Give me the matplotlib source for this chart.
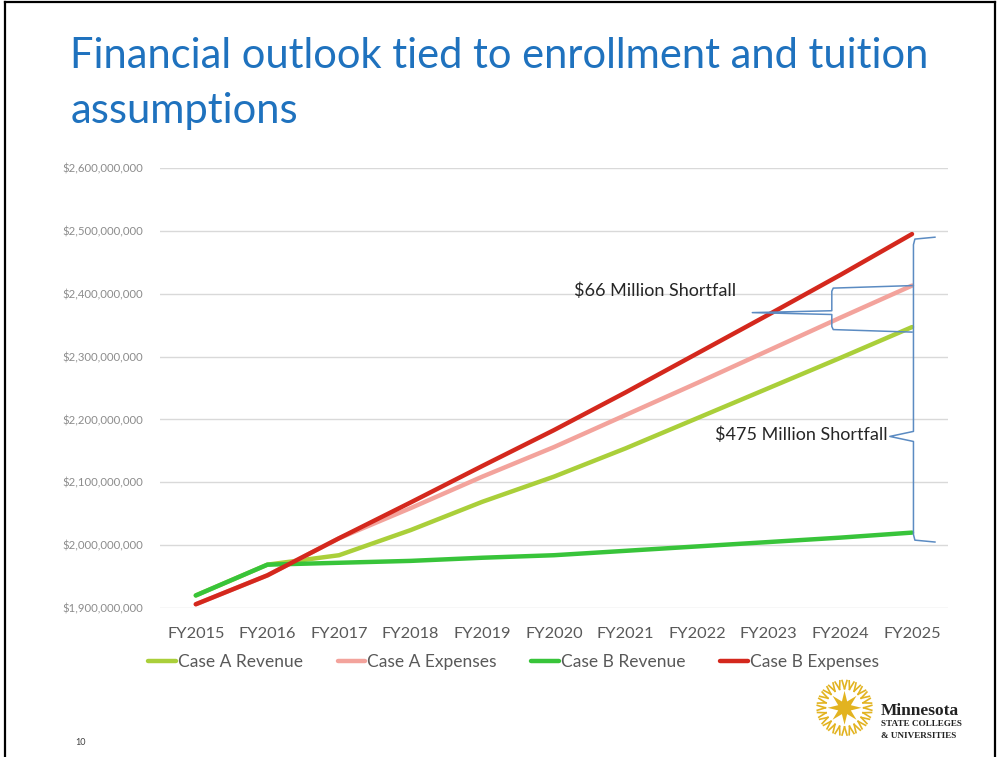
import numpy as np
import matplotlib.pyplot as plt
from matplotlib.lines import Line2D
from matplotlib.ticker import FuncFormatter

years = ['FY2015', 'FY2016', 'FY2017', 'FY2018', 'FY2019', 'FY2020',
         'FY2021', 'FY2022', 'FY2023', 'FY2024', 'FY2025']

# millions of dollars
case_a_revenue = [1920, 1969, 1984, 2024, 2069, 2109, 2154, 2202, 2250, 2298, 2347]
case_a_expenses = [1906, 1952, 2011, 2059, 2109, 2156, 2207, 2258, 2310, 2362, 2413]
case_b_revenue = [1920, 1969, 1972, 1975, 1980, 1984, 1991, 1998, 2005, 2012, 2020]
case_b_expenses = [1906, 1952, 2011, 2068, 2126, 2183, 2243, 2305, 2367, 2430, 2495]

series = [
    ('Case A Revenue', case_a_revenue, '#AACF3A'),
    ('Case A Expenses', case_a_expenses, '#F3A39C'),
    ('Case B Revenue', case_b_revenue, '#38C43A'),
    ('Case B Expenses', case_b_expenses, '#D4281D'),
]

font = 'Lato'
title_color = '#1F72BE'
text_gray = '#595959'
brace_color = '#5B8BC2'

fig = plt.figure(figsize=(10.03, 7.57), dpi=100)
fig.patch.set_facecolor('white')

# slide frame
for xs, ys in [([0.005, 0.005], [0.0, 0.997]),
               ([0.005, 0.992], [0.997, 0.997]),
               ([0.992, 0.992], [0.0, 0.997])]:
    fig.add_artist(Line2D(xs, ys, color='black', lw=1.6, transform=fig.transFigure))

fig.text(0.07, 0.926, 'Financial outlook tied to enrollment and tuition',
         color=title_color, fontsize=30, family=font, va='center', ha='left')
fig.text(0.07, 0.853, 'assumptions',
         color=title_color, fontsize=30, family=font, va='center', ha='left')

ax = fig.add_axes([0.1595, 0.1968, 0.7855, 0.5812])
x = np.arange(len(years))
vals = {}
for name, data, color in series:
    y = np.array(data) * 1e6
    vals[name] = y
    ax.plot(x, y, color=color, lw=3.2, label=name, solid_capstyle='round')

ax.set_xlim(-0.5, len(years) - 0.5)
ax.set_ylim(1.9e9, 2.6e9)
ax.set_yticks(np.arange(1.9e9, 2.61e9, 1e8))
ax.yaxis.set_major_formatter(FuncFormatter(lambda v, p: '${:,.0f}'.format(v)))
ax.set_xticks(x)
ax.set_xticklabels(years)
ax.grid(axis='y', color='#D9D9D9', lw=1)
ax.set_axisbelow(True)
for s in ax.spines.values():
    s.set_visible(False)
ax.tick_params(length=0)
ax.tick_params(axis='y', labelsize=8.2, labelcolor='#8C8C8C', pad=12)
ax.tick_params(axis='x', labelsize=11.8, labelcolor=text_gray, pad=14)
for lbl in ax.get_xticklabels() + ax.get_yticklabels():
    lbl.set_family(font)

end = len(years) - 1

# $66M gap between the Case A lines
a_top = vals['Case A Expenses'][-1]
a_bot = vals['Case A Revenue'][-1] - 0.8e7
ax.plot([end, 8.9, 8.88, 8.88, 7.77, 8.88, 8.88, 8.9, end],
        [a_top, a_top - 0.4e7, a_top - 0.9e7, 2.373e9, 2.370e9, 2.367e9,
         a_bot + 0.9e7, a_bot + 0.4e7, a_bot],
        color=brace_color, lw=1.1, clip_on=False)

# $475M gap between the Case B lines
b_top = vals['Case B Expenses'][-1] - 0.5e7
b_bot = vals['Case B Revenue'][-1] - 1.5e7
ax.plot([end + 0.32, end + 0.04, end + 0.02, end + 0.02, end - 0.31,
         end + 0.02, end + 0.02, end + 0.04, end + 0.32],
        [b_bot, b_bot + 0.3e7, b_bot + 1.2e7, 2.165e9, 2.173e9, 2.181e9,
         b_top - 1.2e7, b_top - 0.3e7, b_top],
        color=brace_color, lw=1.1, clip_on=False)

ax.text(7.55, 2.405e9, '$66 Million Shortfall', fontsize=13, family=font,
        color='#262626', ha='right', va='center')
ax.text(9.66, 2.175e9, '$475 Million Shortfall', fontsize=13, family=font,
        color='#262626', ha='right', va='center')

fig.legend(loc='center', bbox_to_anchor=(0.512, 0.125), ncol=4, frameon=False,
           handlelength=1.6, handletextpad=0.1, columnspacing=2.0,
           prop={'family': font, 'size': 12.5}, labelcolor=text_gray)

fig.text(0.075, 0.016, '10', fontsize=6.5, family=font, color='#404040')

# logo emblem
lax = fig.add_axes([0.812, 0.025, 0.06, 0.08])
lax.set_aspect('equal')
lax.axis('off')
lax.set_xlim(-1.1, 1.1)
lax.set_ylim(-1.1, 1.1)
gold = '#E2B320'
ang = np.linspace(0, 2 * np.pi, 17)[:-1] + np.pi / 2
rad = np.where(np.arange(16) % 2 == 0, 0.62, 0.25)
lax.fill(rad * np.cos(ang), rad * np.sin(ang), color=gold, lw=0)
for a in np.linspace(0, 2 * np.pi, 25)[:-1]:
    for off in (-0.09, 0.09):
        lax.plot([0.7 * np.cos(a), 1.0 * np.cos(a + off)],
                 [0.7 * np.sin(a), 1.0 * np.sin(a + off)], color=gold, lw=1.2)

fig.text(0.878, 0.061, 'Minnesota', fontsize=12.5, family='Liberation Serif',
         weight='bold', color='#222222', va='center')
fig.text(0.878, 0.043, 'STATE COLLEGES', fontsize=6.6, family='Liberation Serif',
         weight='bold', color='#222222', va='center')
fig.text(0.878, 0.028, '& UNIVERSITIES', fontsize=6.6, family='Liberation Serif',
         weight='bold', color='#222222', va='center')

fig.savefig('out.png', dpi=100)
